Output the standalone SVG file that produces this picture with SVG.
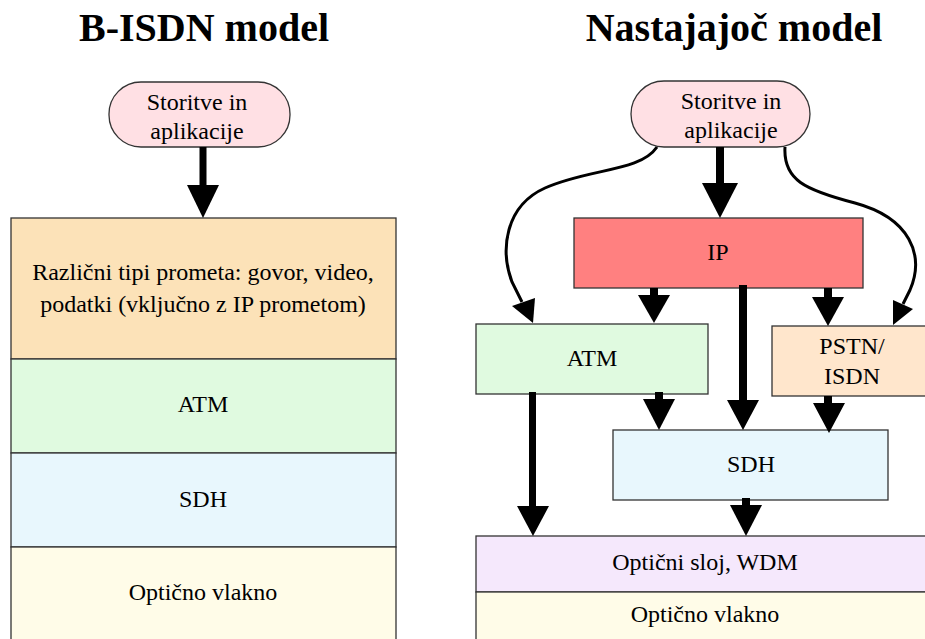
<svg xmlns="http://www.w3.org/2000/svg" width="925" height="639" viewBox="0 0 925 639">
<style>
text{font-family:"Liberation Serif","Times New Roman",serif;font-size:24px;fill:#000;text-anchor:middle}
.title{font-size:40px;font-weight:bold}
.box{stroke:#333;stroke-width:1.3}
.shaft{fill:#000}
.curve{fill:none;stroke:#000;stroke-width:3}
</style>
<rect width="925" height="639" fill="#fff"/>
<text class="title" x="204" y="41">B-ISDN model</text>
<text class="title" x="734" y="41">Nastajajoč model</text>

<g id="l-storitve">
<rect class="box" x="109" y="82" width="181" height="65" rx="32" fill="#FFE0E4"/>
<text x="197" y="110">Storitve in</text>
<text x="197" y="139">aplikacije</text>
</g>
<g id="l-promet">
<rect class="box" x="11" y="218" width="385" height="141" fill="#FCE2B8"/>
<text x="203" y="280">Različni tipi prometa: govor, video,</text>
<text x="203" y="312">podatki (vključno z IP prometom)</text>
</g>
<g id="l-atm">
<rect class="box" x="11" y="359" width="385" height="94" fill="#E0FAE0"/>
<text x="203" y="412">ATM</text>
</g>
<g id="l-sdh">
<rect class="box" x="11" y="453" width="385" height="94" fill="#E8F7FD"/>
<text x="203" y="507">SDH</text>
</g>
<g id="l-vlakno">
<rect class="box" x="11" y="547" width="385" height="100" fill="#FFFCE8"/>
<text x="203" y="600">Optično vlakno</text>
</g>

<g id="r-storitve">
<rect class="box" x="631" y="81" width="179" height="66" rx="33" fill="#FFE0E4"/>
<text x="731" y="109">Storitve in</text>
<text x="731" y="138">aplikacije</text>
</g>
<g id="r-ip">
<rect class="box" x="574" y="218" width="289" height="70" fill="#FF8080"/>
<text x="718" y="260">IP</text>
</g>
<g id="r-atm">
<rect class="box" x="476" y="324" width="232" height="70" fill="#E0FAE0"/>
<text x="592" y="366">ATM</text>
</g>
<g id="r-pstn">
<rect class="box" x="772" y="326" width="160" height="70" fill="#FFE6CC"/>
<text x="852" y="354">PSTN/</text>
<text x="852" y="384">ISDN</text>
</g>
<g id="r-sdh">
<rect class="box" x="613" y="430" width="275" height="70" fill="#E8F7FD"/>
<text x="751" y="472">SDH</text>
</g>
<g id="r-wdm">
<rect class="box" x="476" y="536" width="460" height="56" fill="#F5E8FC"/>
<text x="705" y="570">Optični sloj, WDM</text>
</g>
<g id="r-vlakno">
<rect class="box" x="476" y="592" width="460" height="60" fill="#FFFCE8"/>
<text x="705" y="622">Optično vlakno</text>
</g>

<g id="connectors">
<rect class="shaft" x="199.5" y="147" width="7" height="40"/>
<polygon points="187,185 219,185 203,218"/>
<rect class="shaft" x="716" y="147" width="8" height="38"/>
<polygon points="702,183 738,183 720,218"/>
<path class="curve" d="M657,147 C640,172 590,168 545,188 C505,206 500,250 512,282 L522,302"/>
<polygon points="512,306 535,298 533,323"/>
<path class="curve" d="M785,147 C783,180 805,190 855,203 C910,218 925,255 910,290 L903,304"/>
<polygon points="893,300 913,309 893,325"/>
<rect class="shaft" x="650" y="288" width="8" height="9"/>
<polygon points="638,295 670,295 654,323"/>
<rect class="shaft" x="824" y="288" width="8" height="11"/>
<polygon points="812,297 844,297 828,326"/>
<rect class="shaft" x="739" y="285" width="8" height="117"/>
<polygon points="727,400 759,400 743,430"/>
<rect class="shaft" x="655" y="392" width="8" height="9"/>
<polygon points="643,399 675,399 659,430"/>
<rect class="shaft" x="824" y="396" width="8" height="9"/>
<polygon points="813,403 845,403 829,433"/>
<rect class="shaft" x="529" y="392" width="7" height="116"/>
<polygon points="517,506 549,506 533,536"/>
<rect class="shaft" x="742" y="498" width="8" height="9"/>
<polygon points="730,505 762,505 746,536"/>
</g>
</svg>
